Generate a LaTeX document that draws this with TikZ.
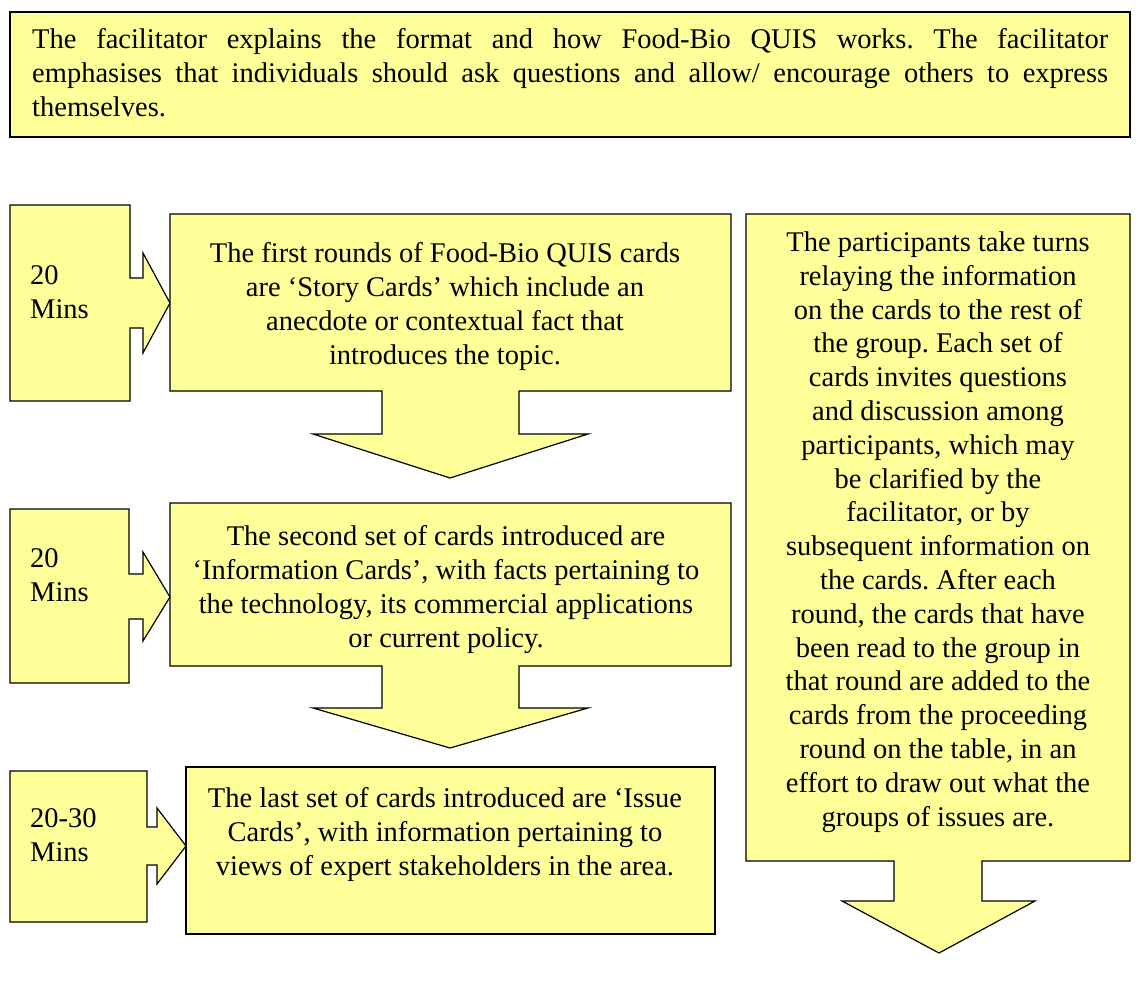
\documentclass[tikz,border=0pt]{standalone}
\usepackage{fontspec}
\setmainfont{Liberation Serif}
\usepackage{tikz}
\definecolor{CardYellow}{HTML}{FFFF99}

\begin{document}
\begin{tikzpicture}[x=1pt,y=-1pt,
  callout/.style={draw=black,fill=CardYellow,line width=1.2pt},
  cardtext/.style={inner sep=0pt,font=\fontsize{28.5}{33.8}\selectfont\frenchspacing}]
  \useasboundingbox (0,0) rectangle (1136,990);
  \draw[callout] (10,12) rectangle (1130,137);
  \node[cardtext,anchor=north west,text width=1076pt,align=justify] (intro) at (32,28.5)
    {The facilitator explains the format and how Food-Bio QUIS works. The facilitator\linebreak
     emphasises that individuals should ask questions and allow/ encourage others to express\linebreak
     themselves.};
  \draw[callout] (10,205)--(130,205)--(130,278)--(143,278)--(143,253)--(170,303)
    --(143,353)--(143,328)--(130,328)--(130,401)--(10,401)--cycle;
  \draw[callout] (10,509)--(129,509)--(129,574)--(143,574)--(143,552)--(170,597)
    --(143,641)--(143,619)--(129,619)--(129,683)--(10,683)--cycle;
  \draw[callout] (10,771)--(147,771)--(147,827)--(157,827)--(157,808)--(186,846)
    --(157,884)--(157,865)--(147,865)--(147,922)--(10,922)--cycle;
  \draw[callout] (170,214)--(731,214)--(731,391)--(519,391)--(519,434)--(588,434)
    --(450,478)--(313,434)--(382,434)--(382,391)--(170,391)--cycle;
  \draw[callout] (170,503)--(731,503)--(731,666)--(519,666)--(519,708)--(588,708)
    --(450,748)--(313,708)--(382,708)--(382,666)--(170,666)--cycle;
  \draw[callout] (186,767) rectangle (715,934);
  \draw[callout] (746,214)--(1130,214)--(1130,861)--(982,861)--(982,901)--(1035,901)
    --(939,953)--(842,901)--(894,901)--(894,861)--(746,861)--cycle;
  \node[cardtext,anchor=north west,align=left] (minsA) at (30,265.7) {20\\Mins};
  \node[cardtext,anchor=north west,align=left] (minsB) at (30,548.7) {20\\Mins};
  \node[cardtext,anchor=north west,align=left] (minsC) at (30,808.7) {20-30\\Mins};
  \node[cardtext,anchor=north,align=center] (story) at (445,242.5)
    {The first rounds of Food-Bio QUIS cards\\are ‘Story Cards’ which include an\\
     anecdote or contextual fact that\\introduces the topic.};
  \node[cardtext,anchor=north,align=center] (info) at (446,525.5)
    {The second set of cards introduced are\\‘Information Cards’, with facts pertaining to\\
     the technology, its commercial applications\\or current policy.};
  \node[cardtext,anchor=north,align=center] (issue) at (445,787.5)
    {The last set of cards introduced are ‘Issue\\Cards’, with information pertaining to\\
     views of expert stakeholders in the area.};
  \node[cardtext,anchor=north,align=center] (relay) at (938,231.5)
    {The participants take turns\\relaying the information\\on the cards to the rest of\\
     the group. Each set of\\cards invites questions\\and discussion among\\
     participants, which may\\be clarified by the\\facilitator, or by\\
     subsequent information on\\the cards. After each\\round, the cards that have\\
     been read to the group in\\that round are added to the\\cards from the proceeding\\
     round on the table, in an\\effort to draw out what the\\groups of issues are.};
\end{tikzpicture}
\end{document}
